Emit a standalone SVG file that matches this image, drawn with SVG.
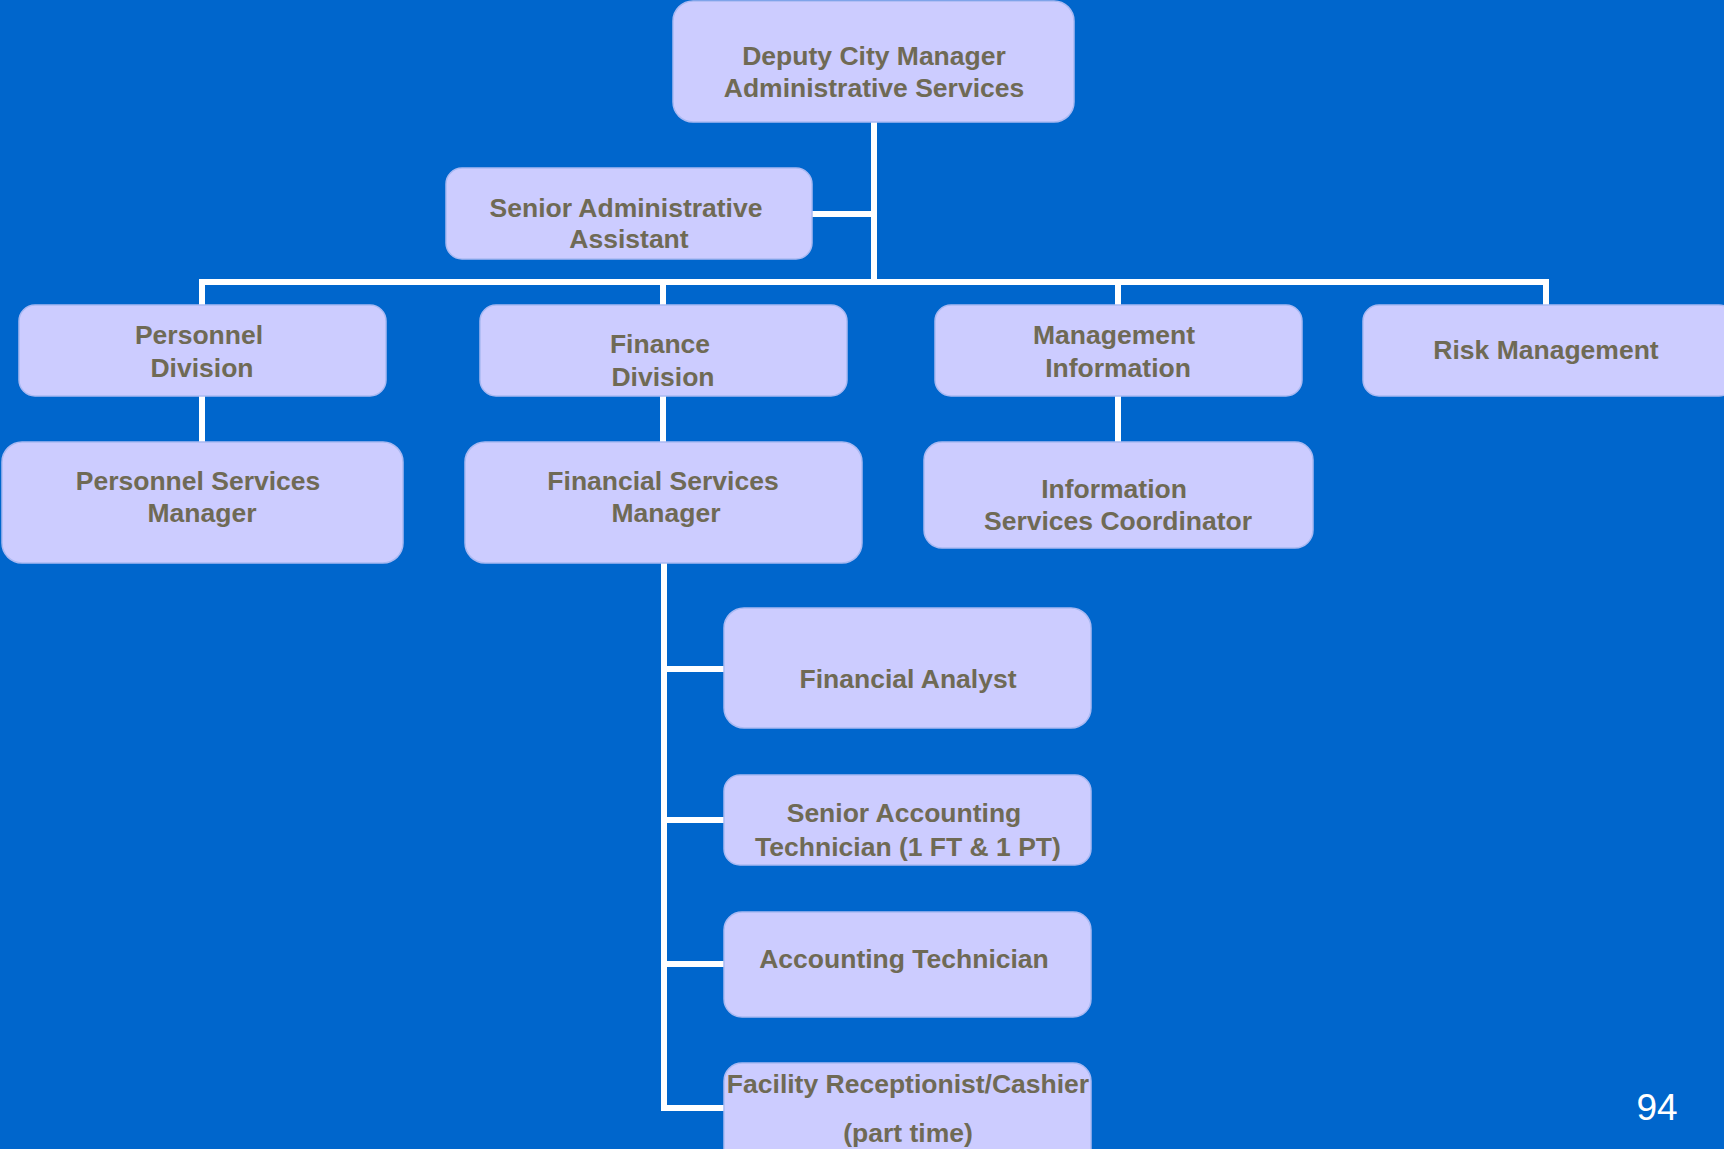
<svg xmlns="http://www.w3.org/2000/svg" width="1724" height="1149" viewBox="0 0 1724 1149">
<style>
.box{fill:#CCCCFF;stroke:#a9b9f2;stroke-width:1.5}
.t{font-family:"Liberation Sans",Arial,sans-serif;font-weight:bold;font-size:26.5px;fill:#6F6A55;text-anchor:middle}
.c{stroke:#FFFFFF;stroke-width:6;fill:none}
.pn{font-family:"Liberation Sans",Arial,sans-serif;font-size:37px;fill:#FFFFFF;text-anchor:middle}
</style>
<rect x="0" y="0" width="1724" height="1149" fill="#0066CC"/>
<g id="connectors">
<path class="c" d="M874 122 V285"/>
<path class="c" d="M812 214 H874"/>
<path class="c" d="M199 282 H1549"/>
<path class="c" d="M202 282 V305"/>
<path class="c" d="M663 282 V306"/>
<path class="c" d="M1118 282 V306"/>
<path class="c" d="M1546 282 V305"/>
<path class="c" d="M202 396 V442"/>
<path class="c" d="M663 396 V442"/>
<path class="c" d="M1118 396 V442"/>
<path class="c" d="M664 563 V1111"/>
<path class="c" d="M661 669 H724"/>
<path class="c" d="M661 820 H724"/>
<path class="c" d="M661 964 H724"/>
<path class="c" d="M661 1108 H724"/>
</g>
<g id="deputy">
<rect class="box" x="673" y="1" width="401" height="121" rx="20"/>
<text class="t" x="874" y="65">Deputy City Manager</text>
<text class="t" x="874" y="97">Administrative Services</text>
</g>
<g id="senior-admin">
<rect class="box" x="446" y="168" width="366" height="91" rx="16"/>
<text class="t" x="626" y="217">Senior Administrative</text>
<text class="t" x="629" y="248">Assistant</text>
</g>
<g id="personnel-division">
<rect class="box" x="19" y="305" width="367" height="91" rx="16"/>
<text class="t" x="199" y="344">Personnel</text>
<text class="t" x="202" y="377">Division</text>
</g>
<g id="finance-division">
<rect class="box" x="480" y="305" width="367" height="91" rx="16"/>
<text class="t" x="660" y="353">Finance</text>
<text class="t" x="663" y="386">Division</text>
</g>
<g id="management-information">
<rect class="box" x="935" y="305" width="367" height="91" rx="16"/>
<text class="t" x="1114" y="344">Management</text>
<text class="t" x="1118" y="377">Information</text>
</g>
<g id="risk-management">
<rect class="box" x="1363" y="305" width="372" height="91" rx="16"/>
<text class="t" x="1546" y="359">Risk Management</text>
</g>
<g id="personnel-services-manager">
<rect class="box" x="2" y="442" width="401" height="121" rx="20"/>
<text class="t" x="198" y="490">Personnel Services</text>
<text class="t" x="202" y="522">Manager</text>
</g>
<g id="financial-services-manager">
<rect class="box" x="465" y="442" width="397" height="121" rx="20"/>
<text class="t" x="663" y="490">Financial Services</text>
<text class="t" x="666" y="522">Manager</text>
</g>
<g id="information-services-coordinator">
<rect class="box" x="924" y="442" width="389" height="106" rx="18"/>
<text class="t" x="1114" y="498">Information</text>
<text class="t" x="1118" y="530">Services Coordinator</text>
</g>
<g id="financial-analyst">
<rect class="box" x="724" y="608" width="367" height="120" rx="20"/>
<text class="t" x="908" y="688">Financial Analyst</text>
</g>
<g id="senior-accounting-technician">
<rect class="box" x="724" y="775" width="367" height="90" rx="16"/>
<text class="t" x="904" y="822">Senior Accounting</text>
<text class="t" x="908" y="856">Technician (1 FT &amp; 1 PT)</text>
</g>
<g id="accounting-technician">
<rect class="box" x="724" y="912" width="367" height="105" rx="18"/>
<text class="t" x="904" y="968">Accounting Technician</text>
</g>
<g id="facility-receptionist">
<rect class="box" x="724" y="1063" width="367" height="110" rx="18"/>
<text class="t" x="908" y="1093">Facility Receptionist/Cashier</text>
<text class="t" x="908" y="1142">(part time)</text>
</g>
<text class="pn" x="1657" y="1120">94</text>
</svg>
